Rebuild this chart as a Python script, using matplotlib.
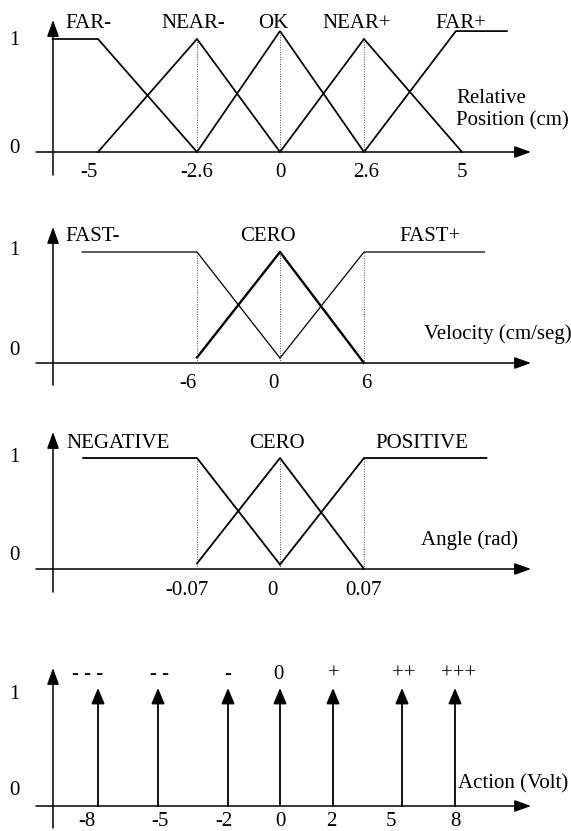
import numpy as np
import matplotlib
matplotlib.use("Agg")
import matplotlib.pyplot as plt
import matplotlib.transforms as mtransforms

plt.rcParams['font.family'] = ['Liberation Serif', 'DejaVu Serif']

# ---------------- data ----------------
# panel 1: relative position (cm)
pos_ticks = [-5, -2.6, 0, 2.6, 5]
pos_names = ['FAR-', 'NEAR-', 'OK', 'NEAR+', 'FAR+']
pos_x = [[-6.1, -5, -2.6], [-5, -2.6, 0], [-2.6, 0, 2.6], [0, 2.6, 5], [2.6, 4.85, 6.1]]
pos_y = [[1, 1, 0], [0, 1, 0], [0, 1.07, 0], [0, 1, 0], [0, 1.07, 1.07]]

# panel 2: velocity (cm/seg)
vel_ticks = [-6, 0, 6]
vel_names = ['FAST-', 'CERO', 'FAST+']
vel_x = [[-14.3, -6, 0], [-6, 0, 6], [0, 6, 14.6]]
vel_y = [[1, 1, 0.045], [0.05, 1, 0], [0.045, 1, 1]]

# panel 3: angle (rad)
ang_ticks = [-0.07, 0, 0.07]
ang_names = ['NEGATIVE', 'CERO', 'POSITIVE']
ang_x = [[-0.166, -0.07, 0], [-0.07, 0, 0.07], [0, 0.07, 0.172]]
ang_y = [[1, 1, 0.04], [0.05, 1, 0], [0.04, 1, 1]]

# panel 4: action (volt) singletons
act_ticks = [-8, -5, -2, 0, 2, 5, 8]
act_names = ['- - -', '- -', '-', '0', '+', '++', '+++']
act_y = [1, 1, 1, 1, 1, 1, 1]

# ---------------- layout (pixels) ----------------
W, H = 571, 831
fig = plt.figure(figsize=(W / 100, H / 100), dpi=100)
px = fig.add_axes([0, 0, 1, 1], label='px')
px.set_xlim(0, W)
px.set_ylim(H, 0)
px.set_axis_off()

FS = 15
YAX = 53
XTIP = 531


def piecewise(xs, ys):
    xs = np.asarray(xs, float)
    ys = np.asarray(ys, float)

    def f(v):
        v = np.asarray(v, float)
        out = np.interp(v, xs, ys)
        lo = ys[0] + (v - xs[0]) * (ys[1] - ys[0]) / (xs[1] - xs[0])
        hi = ys[-1] + (v - xs[-1]) * (ys[-1] - ys[-2]) / (xs[-1] - xs[-2])
        return np.where(v < xs[0], lo, np.where(v > xs[-1], hi, out))
    return f


def panel(ticks, tick_px, y0, y1, name):
    fwd = piecewise(ticks, tick_px)
    inv = piecewise(tick_px, ticks)
    ax = fig.add_axes([0, 0, 1, 1], label=name)
    ax.set_xscale('function', functions=(fwd, inv))
    ax.set_xlim(float(inv(0)), float(inv(W)))
    ax.set_ylim((y0 - H) / (y0 - y1), y0 / (y0 - y1))
    ax.set_axis_off()
    ax.patch.set_visible(False)
    return ax


def frame(y0, ytip, ybot, one_base, zero_base):
    arr = dict(arrowstyle='-|>,head_length=1.0,head_width=0.36', lw=1.1,
               color='black', shrinkA=0, shrinkB=0, mutation_scale=10)
    px.annotate('', xy=(XTIP, y0), xytext=(36, y0), arrowprops=arr)
    px.annotate('', xy=(YAX, ytip), xytext=(YAX, ybot), arrowprops=arr)
    px.text(14, one_base, '1', fontsize=FS, ha='center', va='baseline')
    px.text(14, zero_base, '0', fontsize=FS, ha='center', va='baseline')


def tick_labels(ax, ticks, nudges, base):
    tr = mtransforms.blended_transform_factory(ax.transData, px.transData)
    for t, n in zip(ticks, nudges):
        ax.text(t, base, '%g' % t, fontsize=FS, ha='center', va='baseline',
                transform=tr + mtransforms.ScaledTranslation(n / 100, 0, fig.dpi_scale_trans))


def names(xs, labels, base):
    for x, s in zip(xs, labels):
        px.text(x, base, s, fontsize=FS, ha='center', va='baseline')


dot = dict(color='0.3', lw=0.7, linestyle=(0, (1, 1.5)))

# ---- panel 1 ----
ax1 = panel(pos_ticks, [98, 197, 280, 364, 462], 152, 39, 'p1')
frame(152, 20, 175, 45, 153)
for xs, ys in zip(pos_x, pos_y):
    ax1.plot(xs, ys, color='black', lw=1.25, solid_joinstyle='miter')
for xs, ys in zip(pos_x[1:4], pos_y[1:4]):
    ax1.plot([xs[1], xs[1]], [0, ys[1]], **dot)
tick_labels(ax1, pos_ticks, [-9, 0, 0, 2, 0], 177)
names([88, 193, 273, 357, 461], pos_names, 28)
px.text(456, 103, 'Relative', fontsize=FS, ha='left', va='baseline')
px.text(456, 125, 'Position (cm)', fontsize=FS, ha='left', va='baseline')

# ---- panel 2 ----
ax2 = panel(vel_ticks, [197, 280, 364], 363, 252, 'p2')
frame(363, 227, 385, 255, 355)
for i, (xs, ys) in enumerate(zip(vel_x, vel_y)):
    ax2.plot(xs, ys, color='black', lw=1.7 if i == 1 else 0.9)
for t in vel_ticks:
    ax2.plot([t, t], [0, 1], **dot)
tick_labels(ax2, vel_ticks, [-9, -7, 2], 388)
names([93, 268, 430], vel_names, 241)
px.text(424, 339, 'Velocity (cm/seg)', fontsize=FS, ha='left', va='baseline')

# ---- panel 3 ----
ax3 = panel(ang_ticks, [197, 280, 364], 569, 458, 'p3')
frame(569, 432, 592, 462, 560)
for xs, ys in zip(ang_x, ang_y):
    ax3.plot(xs, ys, color='black', lw=1.3)
for t in ang_ticks:
    ax3.plot([t, t], [0, 1], **dot)
tick_labels(ax3, ang_ticks, [-10, -8, 0], 595)
names([118, 277, 422], ang_names, 448)
px.text(421, 545, 'Angle (rad)', fontsize=FS, ha='left', va='baseline')

# ---- panel 4 ----
ax4 = panel(act_ticks, [98, 158, 228, 280, 333, 402, 455], 806, 688, 'p4')
frame(806, 668, 828, 699, 795)
for t, v in zip(act_ticks, act_y):
    ax4.annotate('', xy=(t, v), xytext=(t, 0),
                 arrowprops=dict(arrowstyle='-|>,head_length=0.95,head_width=0.4',
                                 lw=1.3, color='black', shrinkA=0, shrinkB=0,
                                 mutation_scale=10))
tick_labels(ax4, act_ticks, [-11, 2, -4, 0, -2, -11, 0], 826)
names([88, 159, 228, 278, 334, 404, 459], act_names, 679)
px.text(458, 788, 'Action (Volt)', fontsize=FS, ha='left', va='baseline')

fig.savefig('out.png', dpi=100)
